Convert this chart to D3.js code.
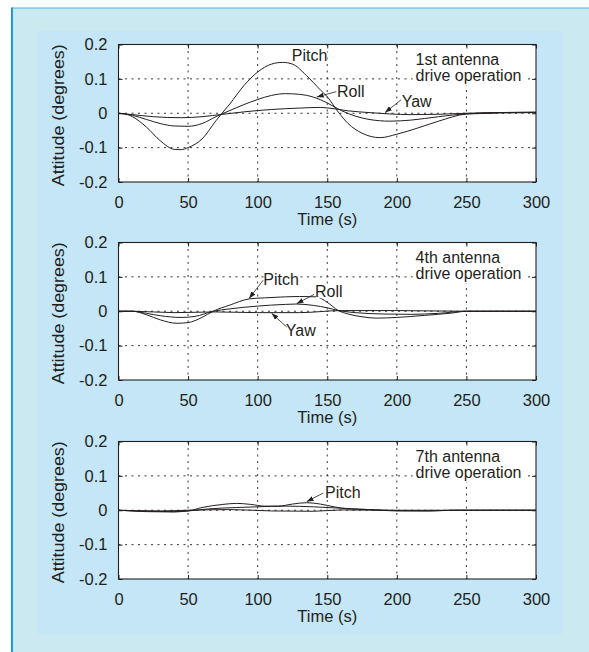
<!DOCTYPE html>
<html>
<head>
<meta charset="utf-8">
<script src="https://cdn.jsdelivr.net/npm/d3@7"></script>
<style>
  body { margin: 0; background: #fff; }
  text { font-family: "Liberation Sans", Arial, Helvetica, sans-serif; fill: #231f20; }
</style>
</head>
<body>
<div id="chart"></div>
<script>
// axis ticks
var timeTicks = [0, 50, 100, 150, 200, 250, 300];
var attTicks = [-0.2, -0.1, 0, 0.1, 0.2];
var panelNames = ["1st antenna", "4th antenna", "7th antenna"];

// 1st antenna drive operation  [time (s), attitude (deg)]
var pitch1 = [[0,0],[5,-0.002],[10,-0.01],[20,-0.04],[30,-0.08],[40,-0.105],[45,-0.106],[50,-0.1],[60,-0.075],[70,-0.022],[75,0.003],[80,0.027],[90,0.08],[100,0.12],[110,0.143],[118,0.148],[125,0.143],[135,0.11],[145,0.068],[150,0.048],[158,0.003],[165,-0.03],[175,-0.058],[188,-0.071],[200,-0.061],[215,-0.043],[230,-0.023],[250,-0.002],[270,0.002],[300,0.003]];
var roll1 = [[0,0],[10,-0.006],[20,-0.018],[30,-0.03],[40,-0.037],[50,-0.038],[60,-0.03],[70,-0.01],[80,0.008],[90,0.025],[100,0.04],[110,0.052],[120,0.057],[130,0.055],[140,0.047],[150,0.03],[160,0.008],[170,-0.008],[180,-0.018],[195,-0.023],[210,-0.02],[230,-0.01],[250,-0.002],[300,0.002]];
var yaw1 = [[0,0],[10,-0.004],[25,-0.01],[45,-0.013],[60,-0.01],[75,-0.003],[90,0.004],[110,0.011],[130,0.015],[145,0.017],[155,0.013],[165,0.007],[180,0.002],[195,-0.002],[210,-0.004],[230,-0.003],[250,0],[300,0.003]];

// 4th antenna drive operation
var pitch2 = [[0,0],[10,0],[20,-0.01],[30,-0.025],[42,-0.035],[50,-0.033],[60,-0.018],[68,0],[80,0.018],[94,0.036],[105,0.039],[120,0.042],[130,0.043],[142,0.042],[150,0.026],[158,0.002],[165,-0.008],[175,-0.016],[185,-0.02],[200,-0.018],[220,-0.012],[240,-0.005],[250,0],[300,0]];
var roll2 = [[0,0],[10,0],[20,-0.006],[30,-0.013],[45,-0.018],[55,-0.015],[68,0],[80,0.007],[100,0.015],[120,0.02],[128,0.021],[140,0.017],[150,0.01],[158,0.002],[170,-0.004],[190,-0.008],[210,-0.009],[230,-0.006],[250,0],[300,0]];
var yaw2 = [[0,0],[10,0],[40,-0.004],[70,-0.002],[100,-0.004],[130,-0.004],[160,0.002],[200,0.002],[250,0],[300,0]];

// 7th antenna drive operation
var pitch3 = [[0,0],[20,-0.003],[40,-0.004],[50,-0.002],[60,0.008],[75,0.017],[85,0.02],[95,0.017],[105,0.012],[115,0.012],[125,0.018],[135,0.022],[145,0.018],[155,0.01],[165,0.004],[180,0.002],[200,-0.001],[225,-0.002],[240,0],[300,0]];
var roll3 = [[0,0],[20,-0.004],[40,-0.005],[50,-0.002],[65,0.004],[85,0.008],[100,0.01],[120,0.012],[140,0.01],[160,0.006],[180,0.002],[200,-0.002],[220,-0.002],[240,0],[300,0]];
var yaw3 = [[0,0],[30,-0.002],[50,0],[80,0.002],[110,-0.002],[140,-0.003],[160,0.001],[190,0],[300,0]];

var panelSeries = [[pitch1, roll1, yaw1], [pitch2, roll2, yaw2], [pitch3, roll3, yaw3]];

// curve labels: text anchor (t,v) and leader line from tip (t,v) on the curve
var curveLabels = [
  [ {text: "Pitch", t: 124.5, v: 0.152},
    {text: "Roll", t: 157, v: 0.048, tip: [142.4, 0.047], end: [156.5, 0.063]},
    {text: "Yaw", t: 203.5, v: 0.018, tip: [191.5, 0.002], end: [203, 0.039]} ],
  [ {text: "Pitch", t: 104, v: 0.077, tip: [93.8, 0.037], end: [103.9, 0.09]},
    {text: "Roll", t: 141.2, v: 0.041, tip: [128, 0.022], end: [140.5, 0.049]},
    {text: "Yaw", t: 120.2, v: -0.071, tip: [110, -0.006], end: [120.9, -0.046]} ],
  [ {text: "Pitch", t: 148.4, v: 0.037, tip: [135.2, 0.025], end: [147, 0.05]} ]
];

var width = 589, height = 652;
var plotLeft = 118.5, plotW = 417.5, plotH = 137.5;
var panelTops = [44.5, 242.5, 441.5];
var ink = "#231f20";

var svg = d3.select("#chart").append("svg")
  .attr("width", width)
  .attr("height", height);

// background boxes
svg.append("rect").attr("x", 12).attr("y", 8).attr("width", width - 12).attr("height", height - 8).attr("fill", "#cbe9f1");
svg.append("rect").attr("x", 38).attr("y", 31).attr("width", 524).attr("height", 604).attr("fill", "#c4e6f6");
svg.append("line").attr("x1", 12).attr("x2", width).attr("y1", 8).attr("y2", 8).attr("stroke", "#4ab3dc").attr("stroke-width", 1.2);
svg.append("line").attr("x1", 12).attr("x2", 12).attr("y1", 7.5).attr("y2", height).attr("stroke", "#1b9dd0").attr("stroke-width", 2);

// arrow head for leader lines
svg.append("defs").append("marker")
  .attr("id", "arrow")
  .attr("markerUnits", "userSpaceOnUse")
  .attr("markerWidth", 7).attr("markerHeight", 5)
  .attr("refX", 7).attr("refY", 2.5)
  .attr("orient", "auto-start-reverse")
  .append("path").attr("d", "M0,0 L7,2.5 L0,5 z").attr("fill", ink);

var x = d3.scaleLinear().domain([0, 300]).range([0, plotW]);
var y = d3.scaleLinear().domain([-0.2, 0.2]).range([plotH, 0]);

var line = d3.line()
  .x(function(d) { return x(d[0]); })
  .y(function(d) { return y(d[1]); })
  .curve(d3.curveMonotoneX);

// plain hyphen minus like the original, "0" for zero
function attFormat(d) { return d === 0 ? "0" : d.toFixed(1); }

panelTops.forEach(function(top, i) {
  var g = svg.append("g").attr("transform", "translate(" + plotLeft + "," + top + ")");

  g.append("rect").attr("width", plotW).attr("height", plotH).attr("fill", "#fff");

  // dotted grid
  g.selectAll(".vgrid").data(timeTicks.slice(1, -1)).enter().append("line")
    .attr("x1", function(d) { return x(d); }).attr("x2", function(d) { return x(d); })
    .attr("y1", 0).attr("y2", plotH)
    .attr("stroke", ink).attr("stroke-width", 0.9).attr("stroke-dasharray", "2,4.5");
  g.selectAll(".hgrid").data(attTicks.slice(1, -1)).enter().append("line")
    .attr("y1", function(d) { return y(d); }).attr("y2", function(d) { return y(d); })
    .attr("x1", 0).attr("x2", plotW)
    .attr("stroke", ink).attr("stroke-width", 0.9).attr("stroke-dasharray", "2,4.5");

  // panel title with white box
  var title = g.append("text")
    .attr("x", x(213.5)).attr("y", y(0.1418))
    .style("font-size", "16px");
  title.append("tspan").attr("x", x(213.5)).text(panelNames[i]);
  title.append("tspan").attr("x", x(213.5)).attr("dy", 16.7).text("drive operation");
  var bb = title.node().getBBox();
  g.insert("rect", function() { return title.node(); })
    .attr("x", bb.x - 3).attr("y", bb.y - 1).attr("width", bb.width + 6).attr("height", bb.height + 2)
    .attr("fill", "#fff");

  // curves
  panelSeries[i].forEach(function(s) {
    g.append("path").datum(s)
      .attr("d", line)
      .attr("fill", "none")
      .attr("stroke", ink)
      .attr("stroke-width", 1);
  });

  // curve labels
  curveLabels[i].forEach(function(l) {
    if (l.tip) {
      g.append("line")
        .attr("x1", x(l.tip[0])).attr("y1", y(l.tip[1]))
        .attr("x2", x(l.end[0])).attr("y2", y(l.end[1]))
        .attr("stroke", ink).attr("stroke-width", 0.8)
        .attr("marker-start", "url(#arrow)");
    }
    var t = g.append("text").attr("x", x(l.t)).attr("y", y(l.v))
      .style("font-size", "16px").text(l.text);
    var b = t.node().getBBox();
    g.insert("rect", function() { return t.node(); })
      .attr("x", b.x + 1).attr("y", b.y + 3).attr("width", b.width - 1).attr("height", b.height - 5)
      .attr("fill", "#fff");
  });

  // axes, ticks pointing inward
  g.append("g").attr("transform", "translate(0," + plotH + ")").attr("color", ink)
    .call(d3.axisBottom(x).tickValues(timeTicks).tickSize(-4).tickPadding(14))
    .call(function(a) { a.select(".domain").remove(); a.selectAll("text").style("font-size", "16.5px").attr("fill", ink); });
  g.append("g").attr("color", ink)
    .call(d3.axisLeft(y).tickValues(attTicks).tickSize(-4).tickPadding(11).tickFormat(attFormat))
    .call(function(a) { a.select(".domain").remove(); a.selectAll("text").style("font-size", "16.5px").attr("fill", ink); });
  g.append("g").attr("color", ink)
    .call(d3.axisTop(x).tickValues(timeTicks).tickSize(-4).tickFormat(""))
    .call(function(a) { a.select(".domain").remove(); });
  g.append("g").attr("transform", "translate(" + plotW + ",0)").attr("color", ink)
    .call(d3.axisRight(y).tickValues(attTicks).tickSize(-4).tickFormat(""))
    .call(function(a) { a.select(".domain").remove(); });

  g.append("rect").attr("width", plotW).attr("height", plotH)
    .attr("fill", "none").attr("stroke", ink).attr("stroke-width", 1.1);

  // axis titles
  g.append("text")
    .attr("x", plotW / 2).attr("y", plotH + 42.5)
    .style("text-anchor", "middle").style("font-size", "16.5px")
    .text("Time (s)");
  g.append("text")
    .attr("transform", "translate(" + (64 - plotLeft) + "," + (plotH / 2 + 2) + ") rotate(-90)")
    .style("text-anchor", "middle").style("font-size", "17px")
    .attr("textLength", 142).attr("lengthAdjust", "spacingAndGlyphs")
    .text("Attitude (degrees)");
});
</script>
</body>
</html>
